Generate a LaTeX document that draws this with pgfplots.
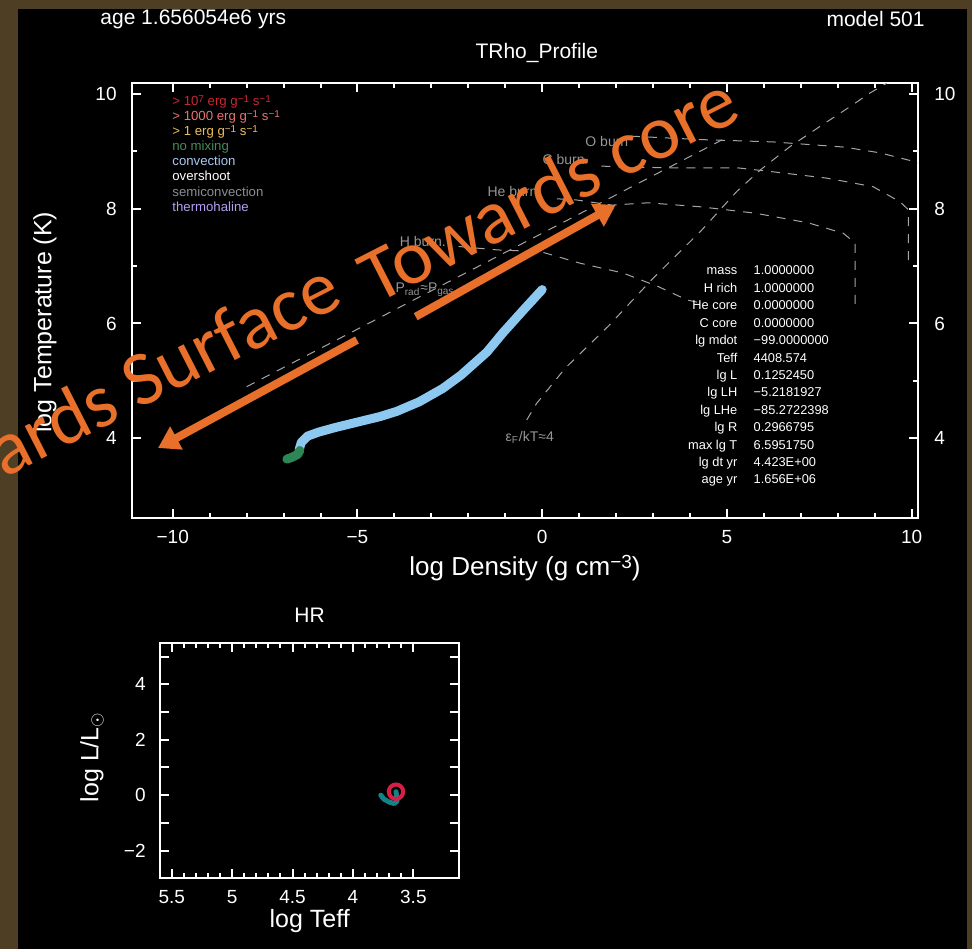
\documentclass[border=0pt]{standalone}
\usepackage{pgfplots}
\pgfplotsset{compat=1.18}
\usepackage{fontspec}
\setmainfont{Liberation Sans}
\newfontfamily\annfont{Carlito}
\usetikzlibrary{arrows.meta}
\definecolor{framebrown}{RGB}{78,62,36}
\definecolor{dashgray}{RGB}{165,165,165}
\definecolor{lblgray}{RGB}{150,150,150}
\definecolor{profblue}{RGB}{140,200,240}
\definecolor{profgreen}{RGB}{45,135,85}
\definecolor{hrteal}{RGB}{20,130,135}
\definecolor{hrred}{RGB}{215,30,70}
\definecolor{annorange}{RGB}{232,112,42}
\definecolor{lgred}{RGB}{200,40,50}
\definecolor{lgsalmon}{RGB}{235,115,115}
\definecolor{lgyellow}{RGB}{235,190,90}
\definecolor{lggreen}{RGB}{70,140,90}
\definecolor{lgblue}{RGB}{170,200,240}
\definecolor{lgsemi}{RGB}{140,140,150}
\definecolor{lgthermo}{RGB}{180,160,240}
\pgfplotsset{
  pgbox/.style={
    scale only axis, anchor=south west,
    axis line style={white, line width=1pt},
    tick style={white, line width=1pt},
    tick align=inside,
    tick label style={white, font=\fontsize{9.5}{11}\selectfont},
    xticklabel style={anchor=center, yshift=-9.2pt},
    label style={white, font=\fontsize{12.5}{14}\selectfont},
    title style={white, font=\fontsize{10.5}{12}\selectfont, yshift=-6.75pt},
  },
}
\tikzset{
  dline/.style={dashgray, line width=0.5pt, dash pattern=on 4.5pt off 4pt},
  glbl/.style={lblgray, anchor=west, inner sep=0pt, font=\fontsize{7}{8}\selectfont},
}
\newcommand{\sups}[1]{\raisebox{0.5ex}{\fontsize{5}{6}\selectfont #1}}
\begin{document}
\begin{tikzpicture}
\useasboundingbox (0,0) rectangle (486pt,474.5pt);
\fill[black] (0,0) rectangle (486pt,474.5pt);
\fill[framebrown] (0,470pt) rectangle (486pt,474.5pt);
\fill[framebrown] (0,0) rectangle (9pt,474.5pt);
\fill[framebrown] (483.3pt,0) rectangle (486pt,474.5pt);
\clip (0,0) rectangle (486pt,474.5pt);

\node[anchor=west, white, inner sep=0pt, font=\fontsize{10.5}{12}\selectfont] at (50pt,465pt) {age 1.656054e6 yrs};
\node[anchor=east, white, inner sep=0pt, font=\fontsize{10.5}{12}\selectfont] at (462.5pt,465pt) {model 501};

% ---------------- TRho profile ----------------
\begin{axis}[pgbox,
  at={(65.85pt,215.35pt)}, width=393.3pt, height=217.5pt,
  xmin=-11.11, xmax=10.18, ymin=2.61, ymax=10.18,
  xtick={-10,-5,0,5,10}, xticklabels={−10,−5,0,5,10},
  minor x tick num=4,
  ytick={4,6,8,10}, yticklabels={4,6,8,10}, minor y tick num=1,
  major tick length=4.5pt, minor tick length=2.5pt,
  yticklabel style={anchor=east, inner sep=0pt, xshift=-7.35pt},
  xlabel={log Density (g cm\raisebox{0.55ex}{\fontsize{9.5}{11}\selectfont −3})},
  xlabel style={at={(axis description cs:0.5,-0.1143)}, anchor=center, font=\fontsize{13}{15}\selectfont},
  ylabel={log Temperature (K)},
  ylabel style={at={(axis description cs:-0.1102,0.451)}, anchor=center},
  title={TRho\_Profile},
  title style={at={(axis description cs:0.515,1.072)}, anchor=center},
]
% Prad = Pgas
\addplot[dline] coordinates {(-8,4.90) (5.0,9.24)};
% degeneracy eF/kT = 4
\addplot[dline] coordinates {(-0.42,4.32) (-0.15,4.61) (0.62,5.22) (1.80,5.96) (2.96,6.76) (4.31,7.62) (5.27,8.30) (5.90,8.67) (6.71,9.08) (7.52,9.43) (8.30,9.76) (8.87,10.01) (9.32,10.18)};
% burning lines
\addplot[dline] coordinates {(-2.26,7.34) (-1.20,7.28) (-0.04,7.25) (1.02,7.05) (2.18,6.88) (3.15,6.64) (3.92,6.41) (4.20,6.37)};
\addplot[dline] coordinates {(0.40,8.17) (0.92,8.15) (1.89,8.06) (2.86,8.10) (4.30,8.03) (5.76,7.92) (7.21,7.75) (8.15,7.57) (8.47,7.40) (8.47,6.24)};
\addplot[dline] coordinates {(1.60,8.74) (1.89,8.73) (3.35,8.71) (5.27,8.71) (6.24,8.64) (7.70,8.53) (8.96,8.38) (9.68,8.12) (9.91,7.98) (9.91,7.08)};
\addplot[dline] coordinates {(2.40,9.26) (4.30,9.20) (6.24,9.16) (8.17,9.07) (9.14,8.97) (10.12,8.81) (10.18,8.79)};
\node[glbl] at (axis cs:-3.86,7.42) {H burn.};
\node[glbl] at (axis cs:-1.49,8.29) {He burn.};
\node[glbl] at (axis cs:0.0,8.85) {C burn};
\node[glbl] at (axis cs:1.16,9.16) {O burn};
\node[glbl] at (axis cs:-3.98,6.58) {P\textsubscript{rad}≈P\textsubscript{gas}};
\node[glbl] at (axis cs:-1.0,4.02) {ε\textsubscript{F}/kT≈4};
% profile
\addplot[profblue, line width=4.5pt, line cap=round, line join=round] coordinates {
(-6.58,3.80) (-6.52,3.93) (-6.35,4.04) (-6.05,4.11) (-5.60,4.19) (-4.90,4.30) (-4.39,4.38) (-3.94,4.47) (-3.32,4.64) (-2.69,4.87) (-2.20,5.10) (-1.50,5.50) (-1.06,5.84) (-0.50,6.24) (0.0,6.59)};
\addplot[profgreen, line width=4.5pt, line cap=round, line join=round] coordinates {
(-6.91,3.64) (-6.78,3.67) (-6.62,3.72) (-6.56,3.79)};
\end{axis}
% right-hand tick labels
\begin{axis}[pgbox,
  at={(65.85pt,215.35pt)}, width=393.3pt, height=217.5pt,
  xmin=-11.11, xmax=10.18, ymin=2.61, ymax=10.18,
  hide x axis, axis y line*=right, y axis line style={draw=none},
  ytick={4,6,8,10}, yticklabels={4,6,8,10}, major tick length=0pt,
  yticklabel pos=right,
  yticklabel style={anchor=west, inner sep=0pt, xshift=7.85pt},
]
\end{axis}

% legend-like key
\begin{scope}[every node/.style={anchor=base west, inner sep=0pt, font=\fontsize{6.6}{7.5}\selectfont}]
\node[text=lgred] at (86pt,421.6pt) {> 10\sups{7} erg g\sups{−1} s\sups{−1}};
\node[text=lgsalmon] at (86pt,414.1pt) {> 1000 erg g\sups{−1} s\sups{−1}};
\node[text=lgyellow] at (86pt,406.6pt) {> 1 erg g\sups{−1} s\sups{−1}};
\node[text=lggreen] at (86pt,399.1pt) {no mixing};
\node[text=lgblue] at (86pt,391.6pt) {convection};
\node[text=white] at (86pt,384.1pt) {overshoot};
\node[text=lgsemi] at (86pt,376.1pt) {semiconvection};
\node[text=lgthermo] at (86pt,368.6pt) {thermohaline};
\end{scope}

% info block
\node[anchor=north east, inner sep=0pt, white, font=\fontsize{6.4}{8.7}\selectfont] at (368.85pt,343.29pt) {%
\begin{tabular}{@{}r@{}}mass\\H rich\\He core\\C core\\lg mdot\\Teff\\lg L\\lg LH\\lg LHe\\lg R\\max lg T\\lg dt yr\\age yr\end{tabular}};
\node[anchor=north west, inner sep=0pt, white, font=\fontsize{6.4}{8.7}\selectfont] at (376.65pt,343.29pt) {%
\begin{tabular}{@{}l@{}}1.0000000\\1.0000000\\0.0000000\\0.0000000\\−99.0000000\\4408.574\\0.1252450\\−5.2181927\\−85.2722398\\0.2966795\\6.5951750\\4.423E+00\\1.656E+06\end{tabular}};

% ---------------- HR diagram ----------------
\begin{axis}[pgbox,
  at={(80pt,35.35pt)}, width=149.65pt, height=117.8pt,
  xmin=3.12, xmax=5.597, x dir=reverse, ymin=-3, ymax=5.5,
  xtick={3.5,4,4.5,5,5.5}, xticklabels={3.5,4,4.5,5,5.5}, minor x tick num=4,
  ytick={-3,-2,-1,0,1,2,3,4,5}, yticklabels={{},{−2},{},{0},{},{2},{},{4},{}},
  major tick length=4.5pt, minor tick length=2.5pt,
  yticklabel style={anchor=east, inner sep=0pt, xshift=-7pt},
  xlabel={log Teff},
  xlabel style={at={(axis description cs:0.5,-0.181)}, anchor=center},
  ylabel={log L/L$_\odot$},
  ylabel style={at={(axis description cs:-0.227,0.515)}, anchor=center},
  title={HR},
  title style={at={(axis description cs:0.5,1.122)}, anchor=center},
]
\addplot[hrteal, line width=2.5pt, line cap=round, line join=round] coordinates {
(3.77,0.00) (3.745,-0.14) (3.70,-0.25) (3.66,-0.30) (3.635,-0.22) (3.64,0.00) (3.644,0.125)};
\addplot[only marks, mark=o, mark size=3.6pt, hrred, line width=2pt] coordinates {(3.644,0.125)};
\end{axis}

% ---------------- annotations ----------------
\draw[annorange, line width=4pt, -{Triangle[length=10.5pt,width=12.5pt]}] (178.5pt,304.5pt) -- (79pt,250.5pt);
\draw[annorange, line width=4pt, -{Triangle[length=10.5pt,width=12.5pt]}] (207.85pt,316.15pt) -- (307.85pt,372pt);
\node[rotate=27, anchor=base east, inner sep=0pt, text=annorange, font=\annfont\fontsize{38.5}{42}\selectfont] at (173pt,322.5pt) {Towards Surface};
\node[rotate=27, anchor=base east, inner sep=0pt, text=annorange, font=\annfont\fontsize{38.5}{42}\selectfont] at (372pt,415.75pt) {Towards core};
\end{tikzpicture}
\end{document}
